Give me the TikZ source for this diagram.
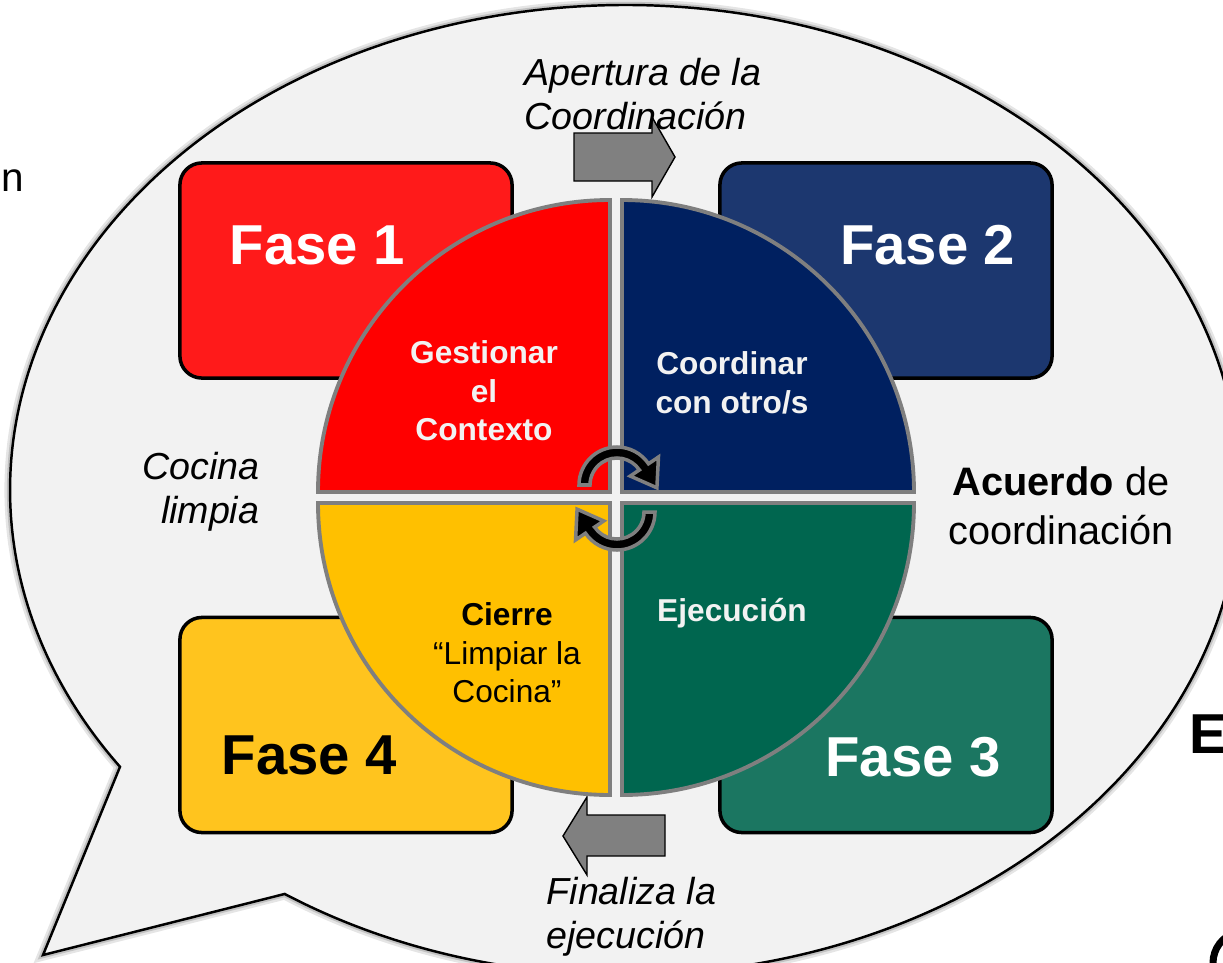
\documentclass[tikz,border=0pt]{standalone}
\usepackage{fontspec}
\setmainfont{Liberation Sans}
\usetikzlibrary{calc}
\definecolor{bubblefill}{HTML}{F2F2F2}
\definecolor{qgray}{HTML}{7F7F7F}
\definecolor{agray}{HTML}{808080}
\definecolor{qred}{HTML}{FF0000}
\definecolor{qnavy}{HTML}{002060}
\definecolor{qgreen}{HTML}{00664F}
\definecolor{qyellow}{HTML}{FFC000}
\definecolor{fred}{HTML}{FF1A1A}
\definecolor{fnavy}{HTML}{1C376F}
\definecolor{fgreen}{HTML}{1B7661}
\definecolor{fyellow}{HTML}{FFC41E}
\definecolor{ltext}{HTML}{F2F2F2}
\tikzset{
  fasebox/.style={draw=black, line width=1pt, rounded corners=0.22cm, minimum width=3.32cm, minimum height=2.15cm, inner sep=0pt},
  fasetxt/.style={font=\bfseries\fontsize{16}{19}\selectfont, inner sep=0pt},
  quarter/.style={draw=qgray, line width=1.1pt},
  inlabel/.style={align=center, font=\bfseries\fontsize{9}{10.9}\selectfont, inner sep=0pt},
  sidetxt/.style={font=\itshape\fontsize{10.7}{12.6}\selectfont, inner sep=0pt},
  blockarrow/.style={fill=agray, draw=black, line width=0.4pt, line join=miter},
  cycarrow/.style={fill=black, draw=qgray, line width=1pt, line join=miter},
}
\begin{document}
\begin{tikzpicture}[x=0.01cm, y=-0.01cm]
\useasboundingbox (0,0) rectangle (1223,963);
\clip (0,0) rectangle (1223,963);
\fill[white] (0,0) rectangle (1223,963);

% speech bubble
\coordinate (E) at (625,490);
\coordinate (tail) at (43,955);
\draw[black, opacity=0.10, line width=3.2pt] ($(E)+(123.6:615 and 485)$) arc[start angle=123.6, end angle=-214.8, x radius=615, y radius=485] -- (tail) -- cycle;
\draw[black, opacity=0.15, line width=1.8pt] ($(E)+(123.6:615 and 485)$) arc[start angle=123.6, end angle=-214.8, x radius=615, y radius=485] -- (tail) -- cycle;
\draw[fill=bubblefill, draw=black, line width=0.7pt, line join=miter] ($(E)+(123.6:615 and 485)$) arc[start angle=123.6, end angle=-214.8, x radius=615, y radius=485] -- (tail) -- cycle;

% phase boxes
\node[fasebox, fill=fred] (box1) at (346,270.5) {};
\node[fasebox, fill=fnavy] (box2) at (886,270.5) {};
\node[fasebox, fill=fgreen] (box3) at (886,725) {};
\node[fasebox, fill=fyellow] (box4) at (346,725) {};

\node[fasetxt, white, anchor=west] (fase1) at (229,245) {Fase 1};
\node[fasetxt, white, anchor=east] (fase2) at (1016,245) {Fase 2};
\node[fasetxt, white] (fase3) at (913,757) {Fase 3};
\node[fasetxt, black, anchor=west] (fase4) at (221,755) {Fase 4};

% block arrows
\draw[blockarrow] (574,133) -- (652,133) -- (652,117) -- (675,157) -- (652,197) -- (652,181) -- (574,181) -- cycle;
\draw[blockarrow] (665,815) -- (587,815) -- (587,797) -- (563,836) -- (587,875) -- (587,856) -- (665,856) -- cycle;

% quarters
\draw[quarter, fill=qred] (610,492) -- ++(-292,0) arc[start angle=180, end angle=270, radius=292] -- cycle;
\draw[quarter, fill=qnavy] (622,492) -- ++(0,-292) arc[start angle=270, end angle=360, radius=292] -- cycle;
\draw[quarter, fill=qgreen] (622,503) -- ++(292,0) arc[start angle=0, end angle=90, radius=292] -- cycle;
\draw[quarter, fill=qyellow] (610,503) -- ++(0,292) arc[start angle=90, end angle=180, radius=292] -- cycle;

% quarter labels
\node[inlabel, text=ltext] (gest) at (484,391) {Gestionar\\el\\Contexto};
\node[inlabel, text=ltext] (coord) at (732,383) {Coordinar\\con otro/s};
\node[inlabel, text=ltext] (ejec) at (732,613) {Ejecución};
\node[inlabel, text=black] (cierre) at (507,653) {Cierre\\{\mdseries “Limpiar la}\\{\mdseries Cocina”}};

% side texts
\node[sidetxt, align=left, anchor=west] (apert) at (524,94) {Apertura de la\\Coordinación};
\node[sidetxt, align=left, anchor=west] (final) at (546,917) {Finaliza la\\ejecución};
\node[sidetxt, align=right, anchor=east] (cocina) at (260,492) {Cocina\\limpia};
\node[align=center, inner sep=0pt, font=\fontsize{11.3}{14}\selectfont] (acuerdo) at (1061,506) {\textbf{Acuerdo} de\\coordinación};

% cut-off fragments
\node[inner sep=0pt, anchor=west, font=\fontsize{11.5}{14}\selectfont] (frag1) at (1,181) {n};
\node[inner sep=0pt, anchor=base west, font=\bfseries\fontsize{16}{19}\selectfont] (frag2) at (1189,753) {E};
\draw[black, line width=2pt] (1213,963) arc[start angle=180, end angle=255, radius=32];

% cycle arrows
\coordinate (U) at (617,485);
\coordinate (L) at (617,512);
\draw[cycarrow] ($(U)+(180:38)$) arc[start angle=180, end angle=326, radius=38] -- ($(U)+(326:50)$) -- ($(U)+(4:40)$) -- ($(U)+(326:16)$) -- ($(U)+(326:27)$) arc[start angle=326, end angle=180, radius=27] -- cycle;
\draw[cycarrow] ($(L)+(0:38)$) arc[start angle=0, end angle=146, radius=38] -- ($(L)+(146:50)$) -- ($(L)+(184:40)$) -- ($(L)+(146:16)$) -- ($(L)+(146:27)$) arc[start angle=146, end angle=0, radius=27] -- cycle;
\end{tikzpicture}
\end{document}
